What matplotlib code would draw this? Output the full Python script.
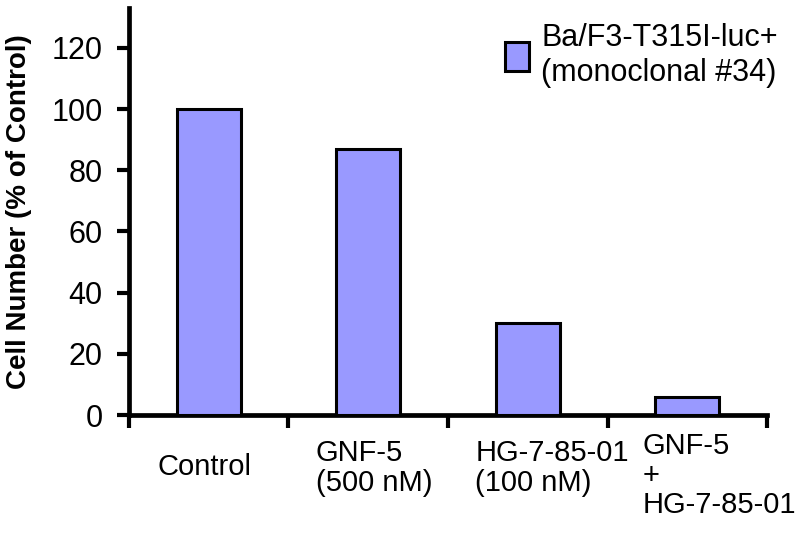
import matplotlib.pyplot as plt

plt.rcParams["font.family"] = ["Liberation Sans", "DejaVu Sans"]

# Values
categories = ["Control", "GNF-5\n(500 nM)", "HG-7-85-01\n(100 nM)", "GNF-5\n+\nHG-7-85-01"]
cell_number = [100, 87, 30, 6]
series_label = "Ba/F3-T315I-luc+\n(monoclonal #34)"
y_ticks = [0, 20, 40, 60, 80, 100, 120]

# label placement tweaks (data-x offset from category centre, points below axis)
label_dx = [-0.32, -0.33, -0.33, -0.28]
label_dy = [-27, -17, -17, -12]

fig = plt.figure(figsize=(8, 5.35), dpi=100)
ax = fig.add_axes([0.161, 0.224, 0.798, 0.761])

x = range(len(categories))
ax.bar(x, cell_number, width=0.4, color="#9999ff", edgecolor="black",
       linewidth=2.2, label=series_label, zorder=3)

ax.set_xlim(-0.5, len(categories) - 0.5)
ax.set_ylim(0, 133)

ax.set_yticks(y_ticks)
ax.tick_params(axis="y", direction="out", length=9, width=3, labelsize=22, pad=10)

# tick marks between categories, labels drawn as text
ax.set_xticks([i - 0.5 for i in range(len(categories) + 1)])
ax.set_xticklabels([])
ax.tick_params(axis="x", direction="out", length=9, width=3)

for i, label in enumerate(categories):
    ax.annotate(label, xy=(i + label_dx[i], 0), xycoords=("data", "axes fraction"),
                xytext=(0, label_dy[i]), textcoords="offset points",
                ha="left", va="top", fontsize=21, linespacing=1.08)

for side in ["top", "right"]:
    ax.spines[side].set_visible(False)
for side in ["left", "bottom"]:
    ax.spines[side].set_linewidth(3.4)

ax.set_ylabel("Cell Number (% of Control)", fontsize=20, fontweight="bold")
ax.yaxis.set_label_coords(-0.152, 0.5)

ax.legend(loc="upper right", bbox_to_anchor=(1.06, 1.03), frameon=False, fontsize=22,
          handlelength=0.8, handleheight=1.1, handletextpad=0.4)

fig.savefig("out.png", dpi=100)
